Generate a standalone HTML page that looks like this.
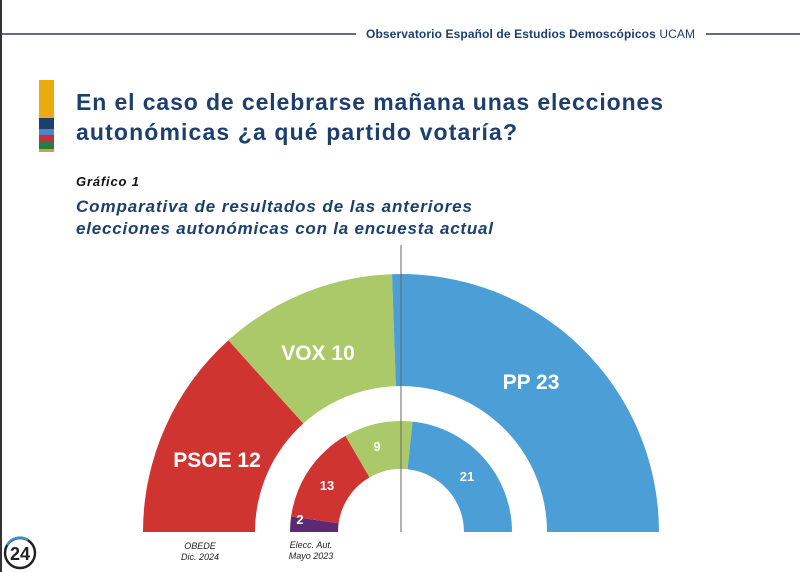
<!DOCTYPE html>
<html><head><meta charset="utf-8"><style>
html,body{margin:0;padding:0;background:#fff;}
body{width:800px;height:572px;position:relative;overflow:hidden;font-family:"Liberation Sans",sans-serif;}
</style></head><body>
<svg width="800" height="572" viewBox="0 0 800 572" xmlns="http://www.w3.org/2000/svg" style="position:absolute;left:0;top:0">
<rect x="0" y="0" width="2" height="572" fill="#333"/>
<line x1="0" y1="34" x2="356" y2="34" stroke="#2d3e55" stroke-width="1.5"/>
<line x1="706" y1="34" x2="800" y2="34" stroke="#2d3e55" stroke-width="1.5"/>
<text x="366" y="38" font-size="12" font-weight="bold" fill="#1c3f6e" textLength="329" lengthAdjust="spacing">Observatorio Español de Estudios Demoscópicos <tspan font-weight="normal">UCAM</tspan></text>
<rect x="39" y="80" width="15" height="38" fill="#e8ad0c"/>
<rect x="39" y="118" width="15" height="11" fill="#1c3f6e"/>
<rect x="39" y="129" width="15" height="6" fill="#4b86cc"/>
<rect x="39" y="135" width="15" height="7" fill="#cf2a3a"/>
<rect x="39" y="142" width="15" height="7" fill="#2a7a45"/>
<rect x="39" y="149" width="15" height="3" fill="#c8a24a"/>
<text x="76" y="110" font-size="23" font-weight="bold" fill="#1c3f6e" textLength="587" lengthAdjust="spacing">En el caso de celebrarse mañana unas elecciones</text>
<text x="76" y="140" font-size="23" font-weight="bold" fill="#1c3f6e" textLength="441" lengthAdjust="spacing">autonómicas ¿a qué partido votaría?</text>
<text x="76" y="186" font-size="13" font-weight="bold" font-style="italic" fill="#111" textLength="63" lengthAdjust="spacing">Gráfico 1</text>
<text x="76" y="212" font-size="17" font-weight="bold" font-style="italic" fill="#1c3f6e" textLength="396" lengthAdjust="spacing">Comparativa de resultados de las anteriores</text>
<text x="76" y="234" font-size="17" font-weight="bold" font-style="italic" fill="#1c3f6e" textLength="417" lengthAdjust="spacing">elecciones autonómicas con la encuesta actual</text>
<path d="M143,532 A258,258 0 0 1 228.4,340.3 L303.3,423.5 A146,146 0 0 0 255,532 Z" fill="#cf3430"/>
<path d="M228.4,340.3 A258,258 0 0 1 392,274.2 L395.9,386.1 A146,146 0 0 0 303.3,423.5 Z" fill="#acc96a"/>
<path d="M392,274.2 A258,258 0 0 1 659,532 L547,532 A146,146 0 0 0 395.9,386.1 Z" fill="#4b9fd6"/>
<path d="M290,532 A111,111 0 0 1 291.1,516.5 L338.6,523.2 A63,63 0 0 0 338,532 Z" fill="#5b2a72"/>
<path d="M291.1,516.5 A111,111 0 0 1 345.5,435.9 L369.5,477.4 A63,63 0 0 0 338.6,523.2 Z" fill="#cf3430"/>
<path d="M345.5,435.9 A111,111 0 0 1 412.6,421.6 L407.6,469.3 A63,63 0 0 0 369.5,477.4 Z" fill="#acc96a"/>
<path d="M412.6,421.6 A111,111 0 0 1 512,532 L464,532 A63,63 0 0 0 407.6,469.3 Z" fill="#4b9fd6"/>
<line x1="401" y1="245" x2="401" y2="532" stroke="#666" stroke-width="1"/>
<g fill="#fff" font-weight="bold" text-anchor="middle">
<text x="318" y="360" font-size="21">VOX 10</text>
<text x="531" y="389" font-size="21">PP 23</text>
<text x="217" y="467" font-size="21">PSOE 12</text>
<text x="377" y="451" font-size="13">9</text>
<text x="467" y="481" font-size="13">21</text>
<text x="327" y="490" font-size="13">13</text>
<text x="300" y="524" font-size="13">2</text>
</g>
<g font-size="9" font-style="italic" fill="#222" text-anchor="middle">
<text x="200" y="549">OBEDE</text>
<text x="200" y="560">Dic. 2024</text>
<text x="311" y="548">Elecc. Aut.</text>
<text x="311" y="559">Mayo 2023</text>
</g>
<circle cx="20" cy="553" r="15" fill="#fff" stroke="#222" stroke-width="2.5"/>
<path d="M7,545 A15,15 0 0 1 28,540" fill="none" stroke="#3a8fd0" stroke-width="2.5"/>
<text x="20" y="560" font-size="18" font-weight="bold" fill="#222" text-anchor="middle">24</text>
</svg>
</body></html>
